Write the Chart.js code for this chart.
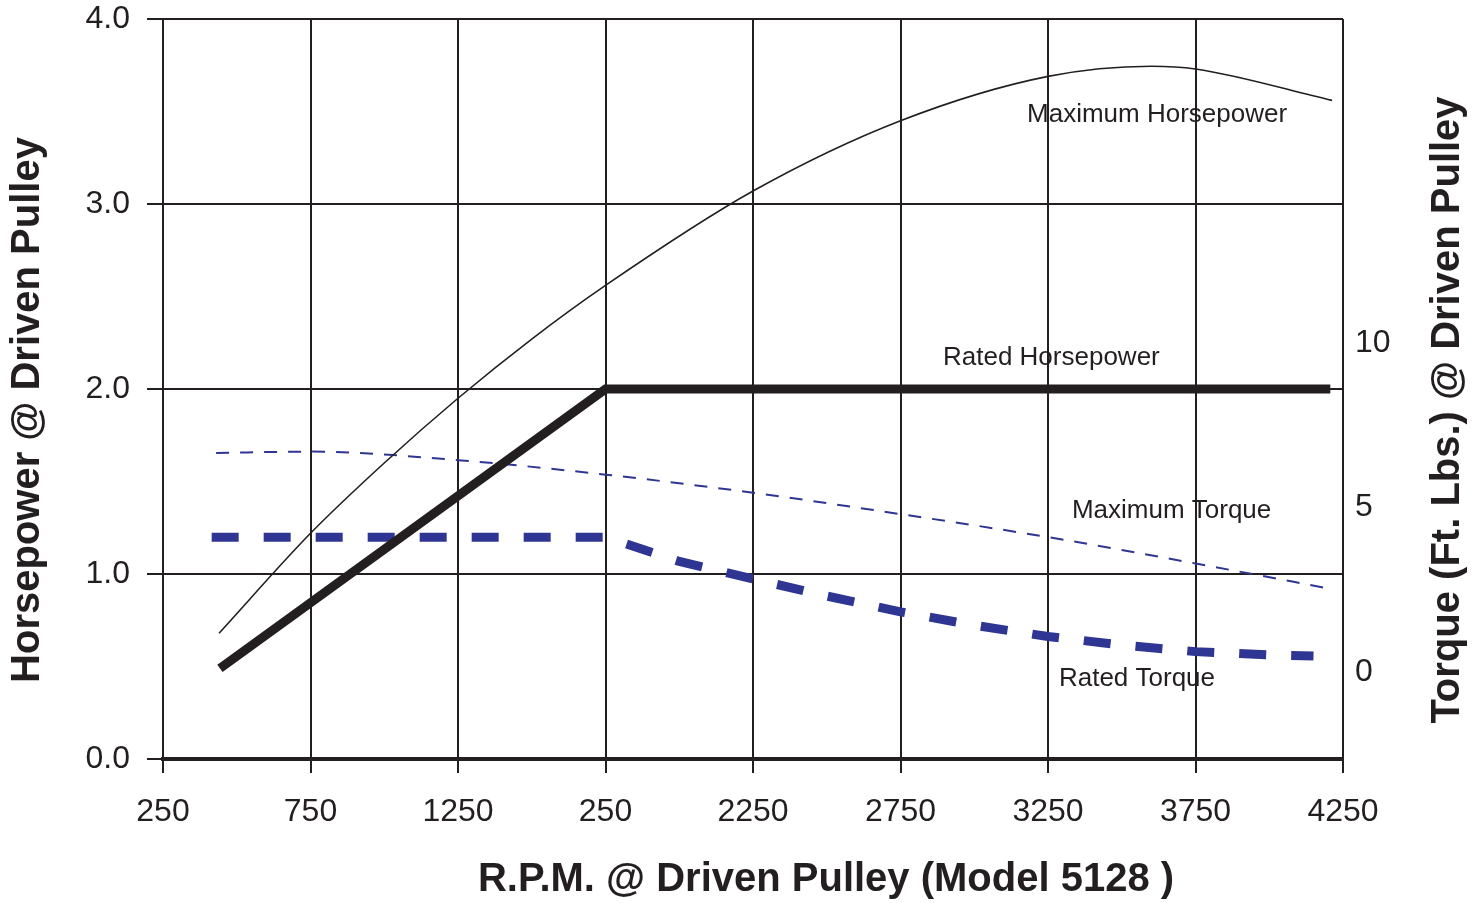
<!DOCTYPE html>
<html>
<head>
<meta charset="utf-8">
<title>Horsepower and Torque @ Driven Pulley</title>
<script src="https://cdn.jsdelivr.net/npm/chart.js@4.4.1/dist/chart.umd.min.js"></script>
<style>
  html, body { margin: 0; padding: 0; background: #fff; }
  #wrap { width: 1481px; height: 903px; position: relative; }
</style>
</head>
<body>
<div id="wrap"><canvas id="pulley-chart"></canvas></div>
<script>
// Axis ticks (the printed chart really says "250" where 1750 should be)
const rpmTicks = [250, 750, 1250, 1750, 2250, 2750, 3250, 3750, 4250];
const rpmTickLabels = ['250', '750', '1250', '250', '2250', '2750', '3250', '3750', '4250'];
const hpTicks = [0, 1, 2, 3, 4];
const torqueTicks = [0, 5, 10];

// Maximum Horsepower (HP)
const maxHpRpm = [440, 750, 1000, 1250, 1500, 1750, 2250, 2750, 3250, 3600, 3750, 4213];
const maxHp = [0.68, 1.22, 1.60, 1.95, 2.27, 2.56, 3.07, 3.45, 3.69, 3.745, 3.73, 3.56];

// Rated Horsepower (HP)
const ratedHpRpm = [443, 1750, 4207];
const ratedHp = [0.49, 2.0, 2.0];

// Maximum Torque (Ft. Lbs.)
const maxTorqueRpm = [430, 750, 1250, 1750, 2250, 2750, 3250, 3750, 4213];
const maxTorque = [6.66, 6.7, 6.44, 6.0, 5.45, 4.8, 4.1, 3.3, 2.52];

// Rated Torque (Ft. Lbs.)
const ratedTorqueRpm = [415, 1750, 2000, 2250, 2500, 2750, 3000, 3250, 3500, 3750, 4000, 4150];
const ratedTorque = [4.1, 4.1, 3.36, 2.83, 2.31, 1.83, 1.42, 1.08, 0.82, 0.62, 0.52, 0.49];

// Text next to each curve, anchored in data units
const curveLabels = [
    { text: 'Maximum Horsepower', rpm: 3179, value: 3.48, axis: 'y' },
    { text: 'Rated Horsepower', rpm: 2894, value: 2.17, axis: 'y' },
    { text: 'Maximum Torque', rpm: 3331, value: 4.89, axis: 'y2' },
    { text: 'Rated Torque', rpm: 3287, value: -0.21, axis: 'y2' }
];

const INK = '#231f20';
const BLUE = '#2e3592';
const FONT = '"Liberation Sans", Arial, Helvetica, sans-serif';

function toPoints(xs, ys) {
    return xs.map((x, i) => ({ x: x, y: ys[i] }));
}

// fixed axis size, and no extra room for the end labels
function fixWidth(w) {
    return scale => {
        scale.width = w;
        scale.paddingTop = 0;
        scale.paddingBottom = 0;
    };
}

// Labels on the curves + axis titles (the side ones both read bottom to top)
const chartText = {
    id: 'chartText',
    afterDatasetsDraw(chart) {
        const ctx = chart.ctx;
        const xs = chart.scales.x;
        ctx.save();
        ctx.font = '26px ' + FONT;
        ctx.fillStyle = INK;
        ctx.textAlign = 'left';
        ctx.textBaseline = 'middle';
        curveLabels.forEach(l => {
            ctx.fillText(l.text, xs.getPixelForValue(l.rpm), chart.scales[l.axis].getPixelForValue(l.value));
        });
        ctx.restore();
    },
    afterDraw(chart) {
        const ctx = chart.ctx;
        const mid = (chart.chartArea.top + chart.chartArea.bottom) / 2 + 21;
        ctx.save();
        ctx.font = 'bold 40px ' + FONT;
        ctx.fillStyle = INK;
        ctx.textAlign = 'center';
        ctx.textBaseline = 'middle';
        ctx.fillText('R.P.M. @ Driven Pulley (Model 5128 )', 826, 880);
        [[28, 'Horsepower @ Driven Pulley'], [1448, 'Torque (Ft. Lbs.) @ Driven Pulley']].forEach(t => {
            ctx.save();
            ctx.translate(t[0], mid);
            ctx.rotate(-Math.PI / 2);
            ctx.fillText(t[1], 0, 0);
            ctx.restore();
        });
        ctx.restore();
    }
};

const ctx = document.getElementById('pulley-chart').getContext('2d');

new Chart(ctx, {
    type: 'line',
    data: {
        datasets: [
            {
                label: 'Maximum Horsepower',
                data: toPoints(maxHpRpm, maxHp),
                yAxisID: 'y',
                borderColor: INK,
                borderWidth: 1.6,
                cubicInterpolationMode: 'monotone'
            },
            {
                label: 'Rated Horsepower',
                data: toPoints(ratedHpRpm, ratedHp),
                yAxisID: 'y',
                borderColor: INK,
                borderWidth: 9,
                borderJoinStyle: 'miter',
                tension: 0
            },
            {
                label: 'Maximum Torque',
                data: toPoints(maxTorqueRpm, maxTorque),
                yAxisID: 'y2',
                borderColor: BLUE,
                borderWidth: 2,
                borderDash: [13, 11],
                cubicInterpolationMode: 'monotone'
            },
            {
                label: 'Rated Torque',
                data: toPoints(ratedTorqueRpm, ratedTorque),
                yAxisID: 'y2',
                borderColor: BLUE,
                borderWidth: 9,
                borderDash: [27, 25],
                tension: 0
            }
        ]
    },
    options: {
        responsive: true,
        maintainAspectRatio: false,
        animation: false,
        elements: { point: { radius: 0 }, line: { fill: false } },
        layout: { padding: { top: 19, left: 0, right: 0, bottom: 0 } },
        plugins: {
            legend: { display: false },
            tooltip: { enabled: false }
        },
        scales: {
            x: {
                type: 'linear',
                min: 250,
                max: 4250,
                afterBuildTicks: scale => { scale.ticks = rpmTicks.map(v => ({ value: v })); },
                afterFit: scale => { scale.height = 144; },
                ticks: {
                    autoSkip: false,
                    maxRotation: 0,
                    padding: 20,
                    color: INK,
                    font: { family: FONT, size: 32 },
                    callback: (v, i) => rpmTickLabels[i]
                },
                grid: { color: INK, lineWidth: 2, tickLength: 14 },
                border: { color: INK, width: 4 }
            },
            y: {
                position: 'left',
                min: 0,
                max: 4,
                afterBuildTicks: scale => { scale.ticks = hpTicks.map(v => ({ value: v })); },
                afterFit: fixWidth(163),
                ticks: {
                    padding: 17,
                    color: INK,
                    font: { family: FONT, size: 32 },
                    callback: v => v.toFixed(1)
                },
                grid: { color: INK, lineWidth: 2, tickLength: 16 },
                border: { color: INK, width: 2 }
            },
            y2: {
                position: 'right',
                min: -2.644,
                max: 19.85,
                afterBuildTicks: scale => { scale.ticks = torqueTicks.map(v => ({ value: v })); },
                afterFit: fixWidth(138),
                ticks: {
                    padding: 12,
                    color: INK,
                    font: { family: FONT, size: 32 },
                    callback: v => String(v)
                },
                grid: { display: false, drawTicks: false },
                border: { display: false }
            }
        }
    },
    plugins: [chartText]
});
</script>
</body>
</html>
